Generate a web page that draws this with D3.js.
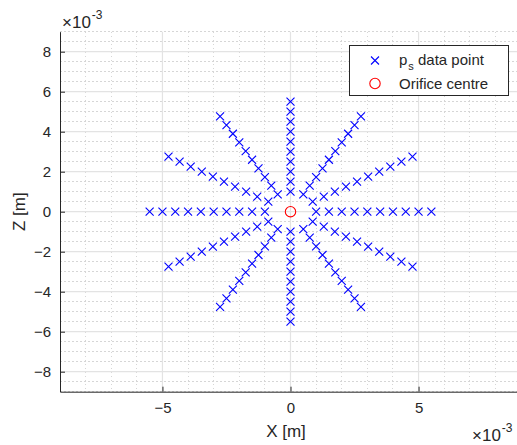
<!DOCTYPE html>
<html>
<head>
<meta charset="utf-8">
<script src="https://cdn.jsdelivr.net/npm/d3@7/dist/d3.min.js"></script>
<style>
  html, body { margin: 0; padding: 0; background: #ffffff; }
  svg { display: block; }
  text { font-family: "Liberation Sans", Arial, Helvetica, sans-serif; fill: #262626; }
</style>
</head>
<body>
<svg id="chart" width="517" height="445"></svg>
<script>
// Static-pressure tap layout: taps lie on radial lines around the orifice.
// Ray directions (degrees, measured from +X towards +Z)
const rayAnglesDeg = [0, 30, 60, 90, 120, 150, 180, 210, 240, 270, 300, 330];
// Radial distance of each tap from the orifice centre along a ray [m]
const tapRadii = [1.0e-3, 1.5e-3, 2.0e-3, 2.5e-3, 3.0e-3, 3.5e-3, 4.0e-3, 4.5e-3, 5.0e-3, 5.5e-3];
// Orifice centre [m]
const orificeX = [0];
const orificeZ = [0];
// Axis tick values [m]
const xTicks = [-5e-3, 0, 5e-3];
const yTicks = [-8e-3, -6e-3, -4e-3, -2e-3, 0, 2e-3, 4e-3, 6e-3, 8e-3];
const xMinorTicks = [-9e-3, -8e-3, -7e-3, -6e-3, -5e-3, -4e-3, -3e-3, -2e-3, -1e-3, 0, 1e-3, 2e-3, 3e-3, 4e-3, 5e-3, 6e-3, 7e-3, 8e-3, 9e-3];
const yMinorTicks = [-9e-3, -8.5e-3, -8e-3, -7.5e-3, -7e-3, -6.5e-3, -6e-3, -5.5e-3, -5e-3, -4.5e-3, -4e-3, -3.5e-3, -3e-3, -2.5e-3, -2e-3, -1.5e-3, -1e-3, -0.5e-3, 0, 0.5e-3, 1e-3, 1.5e-3, 2e-3, 2.5e-3, 3e-3, 3.5e-3, 4e-3, 4.5e-3, 5e-3, 5.5e-3, 6e-3, 6.5e-3, 7e-3, 7.5e-3, 8e-3, 8.5e-3, 9e-3];

// Tap coordinates from the polar layout
const taps = [];
rayAnglesDeg.forEach(a => {
  const t = a * Math.PI / 180;
  tapRadii.forEach(r => taps.push({ x: r * Math.cos(t), z: r * Math.sin(t) }));
});

const svg = d3.select("#chart");
const plotLeft = 60, plotRight = 521, plotTop = 31.7, plotBottom = 391.7;

const x = d3.scaleLinear().domain([-9e-3, 9e-3]).range([plotLeft, plotRight]);
const y = d3.scaleLinear().domain([-9e-3, 9e-3]).range([plotBottom, plotTop]);

const fmt = d => d3.format("d")(Math.round(d * 1e3));

// Minor grid (dotted)
const grid = svg.append("g");
grid.selectAll(".xminor").data(xMinorTicks).enter().append("line")
  .attr("x1", d => x(d)).attr("x2", d => x(d)).attr("y1", plotTop).attr("y2", plotBottom)
  .attr("stroke", "#d6d6d6").attr("stroke-width", 1).attr("stroke-dasharray", "1.5,2.5")
  .attr("shape-rendering", "crispEdges");
grid.selectAll(".yminor").data(yMinorTicks).enter().append("line")
  .attr("x1", plotLeft).attr("x2", plotRight).attr("y1", d => y(d)).attr("y2", d => y(d))
  .attr("stroke", "#d6d6d6").attr("stroke-width", 1).attr("stroke-dasharray", "1.5,2.5")
  .attr("shape-rendering", "crispEdges");

// Major grid (solid, light)
grid.selectAll(".xmajor").data(xTicks).enter().append("line")
  .attr("x1", d => x(d)).attr("x2", d => x(d)).attr("y1", plotTop).attr("y2", plotBottom)
  .attr("stroke", "#e3e3e3").attr("stroke-width", 1.2);
grid.selectAll(".ymajor").data(yTicks).enter().append("line")
  .attr("x1", plotLeft).attr("x2", plotRight).attr("y1", d => y(d)).attr("y2", d => y(d))
  .attr("stroke", "#e3e3e3").attr("stroke-width", 1.2);

// Axes with inward ticks
const xAxis = d3.axisBottom(x).tickValues(xTicks).tickFormat(fmt).tickSizeInner(-5).tickSizeOuter(0).tickPadding(11);
const yAxis = d3.axisLeft(y).tickValues(yTicks).tickFormat(fmt).tickSizeInner(-5).tickSizeOuter(0).tickPadding(9);

const gx = svg.append("g").attr("transform", `translate(0,${plotBottom})`).call(xAxis);
const gy = svg.append("g").attr("transform", `translate(${plotLeft},0)`).call(yAxis);
[gx, gy].forEach(g => {
  g.select(".domain").attr("stroke", "#262626").attr("stroke-width", 1);
  g.selectAll(".tick line").attr("stroke", "#262626").attr("stroke-width", 1);
  g.selectAll(".tick text").attr("font-size", 15).attr("fill", "#262626")
    .attr("font-family", "Liberation Sans, Arial, sans-serif");
});

// Data markers: tap positions
const cross = 4;
const gTaps = svg.append("g");
gTaps.selectAll("path").data(taps).enter().append("path")
  .attr("d", d => {
    const cx = x(d.x), cy = y(d.z);
    return `M${cx - cross},${cy - cross}L${cx + cross},${cy + cross}M${cx - cross},${cy + cross}L${cx + cross},${cy - cross}`;
  })
  .attr("stroke", "#0000ff").attr("stroke-width", 1.1).attr("fill", "none");

// Orifice centre
svg.append("g").selectAll("circle").data(orificeX.map((v, i) => ({ x: v, z: orificeZ[i] })))
  .enter().append("circle")
  .attr("cx", d => x(d.x)).attr("cy", d => y(d.z)).attr("r", 5.2)
  .attr("fill", "none").attr("stroke", "#ff0000").attr("stroke-width", 1.1);

// Axis labels
svg.append("text").attr("x", 286).attr("y", 437).attr("text-anchor", "middle")
  .attr("font-size", 17).text("X [m]");
svg.append("text").attr("transform", `translate(25,${(plotTop + plotBottom) / 2}) rotate(-90)`)
  .attr("text-anchor", "middle").attr("font-size", 17).text("Z [m]");

// Exponent labels
const expTop = svg.append("text").attr("x", 62).attr("y", 28).attr("font-size", 17);
expTop.append("tspan").text("\u00d710");
expTop.append("tspan").attr("dx", 1).attr("dy", -9).attr("font-size", 12).text("-3");
const expBottom = svg.append("text").attr("x", 472).attr("y", 441).attr("font-size", 17);
expBottom.append("tspan").text("\u00d710");
expBottom.append("tspan").attr("dx", 1).attr("dy", -9).attr("font-size", 12).text("-3");

// Legend
const lg = svg.append("g");
lg.append("rect").attr("x", 349.5).attr("y", 45.5).attr("width", 159).attr("height", 50)
  .attr("fill", "#ffffff").attr("stroke", "#262626").attr("stroke-width", 1);
const lx = 375, ly1 = 60.5, ly2 = 83.5;
lg.append("path")
  .attr("d", `M${lx - cross},${ly1 - cross}L${lx + cross},${ly1 + cross}M${lx - cross},${ly1 + cross}L${lx + cross},${ly1 - cross}`)
  .attr("stroke", "#0000ff").attr("stroke-width", 1.1);
lg.append("circle").attr("cx", lx).attr("cy", ly2).attr("r", 5.2)
  .attr("fill", "none").attr("stroke", "#ff0000").attr("stroke-width", 1.1);
const t1 = lg.append("text").attr("x", 399).attr("y", 64.5).attr("font-size", 15);
t1.append("tspan").text("p");
t1.append("tspan").attr("dx", 1).attr("dy", 5).attr("font-size", 11).text("s");
t1.append("tspan").attr("dy", -5).text(" data point");
lg.append("text").attr("x", 399).attr("y", 88.5).attr("font-size", 15).text("Orifice centre");
</script>
</body>
</html>
